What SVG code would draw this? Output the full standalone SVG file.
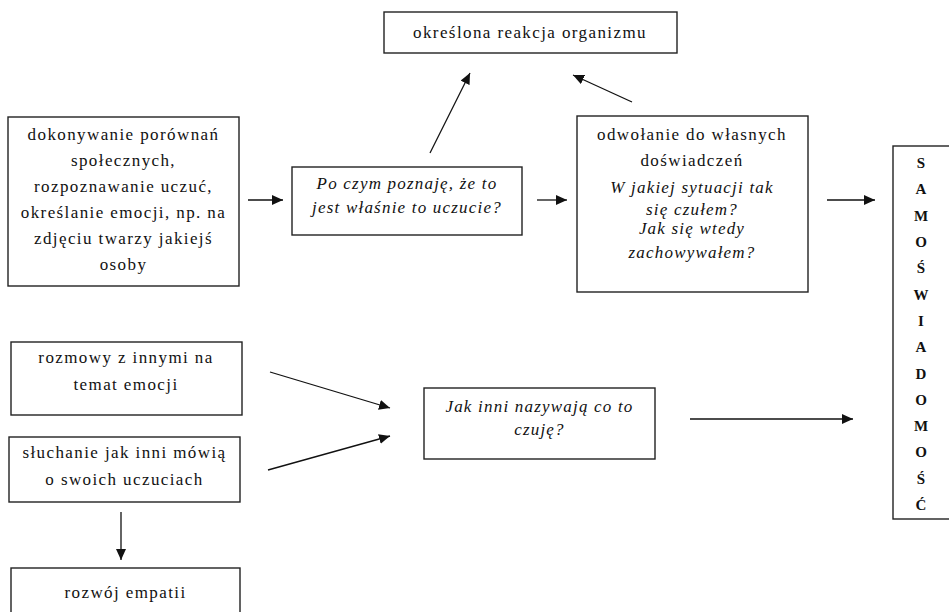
<svg xmlns="http://www.w3.org/2000/svg" width="949" height="612" viewBox="0 0 949 612">
<style>
.box{fill:#fff;stroke:#222;stroke-width:1.4}
.t{font-family:"Liberation Serif","Times New Roman",serif;font-size:17px;fill:#111;text-anchor:middle;letter-spacing:1.4px}
.i{font-style:italic;letter-spacing:1.2px}
.b{font-family:"Liberation Serif","Times New Roman",serif;font-size:15px;font-weight:bold;fill:#111;text-anchor:middle}
.c{stroke:#111;stroke-width:1.3;fill:none;marker-end:url(#ah)}
</style>
<defs>
<marker id="ah" markerUnits="userSpaceOnUse" markerWidth="12" markerHeight="10" refX="11" refY="5" orient="auto">
<path d="M0,0 L11,5 L0,10 Z" fill="#111"/>
</marker>
</defs>
<rect width="949" height="612" fill="#fff"/>
<g id="connectors">
<line class="c" x1="248" y1="200" x2="283" y2="200"/>
<line class="c" x1="537" y1="200" x2="567" y2="200"/>
<line class="c" x1="827" y1="200" x2="875" y2="200"/>
<line class="c" x1="430" y1="153" x2="470" y2="73"/>
<line class="c" x1="632" y1="102" x2="573" y2="75"/>
<line class="c" x1="270" y1="372" x2="390" y2="408"/>
<line class="c" x1="268" y1="470" x2="390" y2="436"/>
<line class="c" x1="690" y1="419" x2="853" y2="419"/>
<line class="c" x1="121" y1="512" x2="121" y2="560"/>
</g>
<g id="n-reakcja">
<rect class="box" x="384" y="12" width="293" height="41"/>
<text class="t" x="530" y="38">określona reakcja organizmu</text>
</g>
<g id="n-porownania">
<rect class="box" x="8" y="117" width="231" height="169"/>
<text class="t" x="123.5" y="140">dokonywanie porównań</text>
<text class="t" x="123.5" y="166">społecznych,</text>
<text class="t" x="123.5" y="192">rozpoznawanie uczuć,</text>
<text class="t" x="123.5" y="218">określanie emocji, np. na</text>
<text class="t" x="123.5" y="244">zdjęciu twarzy jakiejś</text>
<text class="t" x="123.5" y="270">osoby</text>
</g>
<g id="n-poczym">
<rect class="box" x="292" y="167" width="230" height="68"/>
<text class="t i" x="407" y="189">Po czym poznaję, że to</text>
<text class="t i" x="407" y="213">jest właśnie to uczucie?</text>
</g>
<g id="n-odwolanie">
<rect class="box" x="577" y="116" width="231" height="176"/>
<text class="t" x="692" y="140">odwołanie do własnych</text>
<text class="t" x="692" y="166">doświadczeń</text>
<text class="t i" x="692" y="193">W jakiej sytuacji tak</text>
<text class="t i" x="692" y="215">się czułem?</text>
<text class="t i" x="692" y="234">Jak się wtedy</text>
<text class="t i" x="692" y="258">zachowywałem?</text>
</g>
<g id="n-samo">
<rect class="box" x="893" y="146" width="62" height="373"/>
<text class="b" x="921" y="168">S</text>
<text class="b" x="921" y="194">A</text>
<text class="b" x="921" y="221">M</text>
<text class="b" x="921" y="247">O</text>
<text class="b" x="921" y="273">Ś</text>
<text class="b" x="921" y="300">W</text>
<text class="b" x="921" y="326">I</text>
<text class="b" x="921" y="352">A</text>
<text class="b" x="921" y="379">D</text>
<text class="b" x="921" y="405">O</text>
<text class="b" x="921" y="431">M</text>
<text class="b" x="921" y="457">O</text>
<text class="b" x="921" y="484">Ś</text>
<text class="b" x="921" y="510">Ć</text>
</g>
<g id="n-rozmowy">
<rect class="box" x="11" y="342" width="231" height="73"/>
<text class="t" x="126" y="363">rozmowy z innymi na</text>
<text class="t" x="126" y="390">temat emocji</text>
</g>
<g id="n-sluchanie">
<rect class="box" x="9" y="437" width="231" height="65"/>
<text class="t" x="124.5" y="458">słuchanie jak inni mówią</text>
<text class="t" x="124.5" y="485">o swoich uczuciach</text>
</g>
<g id="n-jakinni">
<rect class="box" x="424" y="388" width="231" height="71"/>
<text class="t i" x="539.5" y="412">Jak inni nazywają co to</text>
<text class="t i" x="539.5" y="435">czuję?</text>
</g>
<g id="n-empatia">
<rect class="box" x="11" y="568" width="229" height="60"/>
<text class="t" x="125.5" y="598">rozwój empatii</text>
</g>
</svg>
